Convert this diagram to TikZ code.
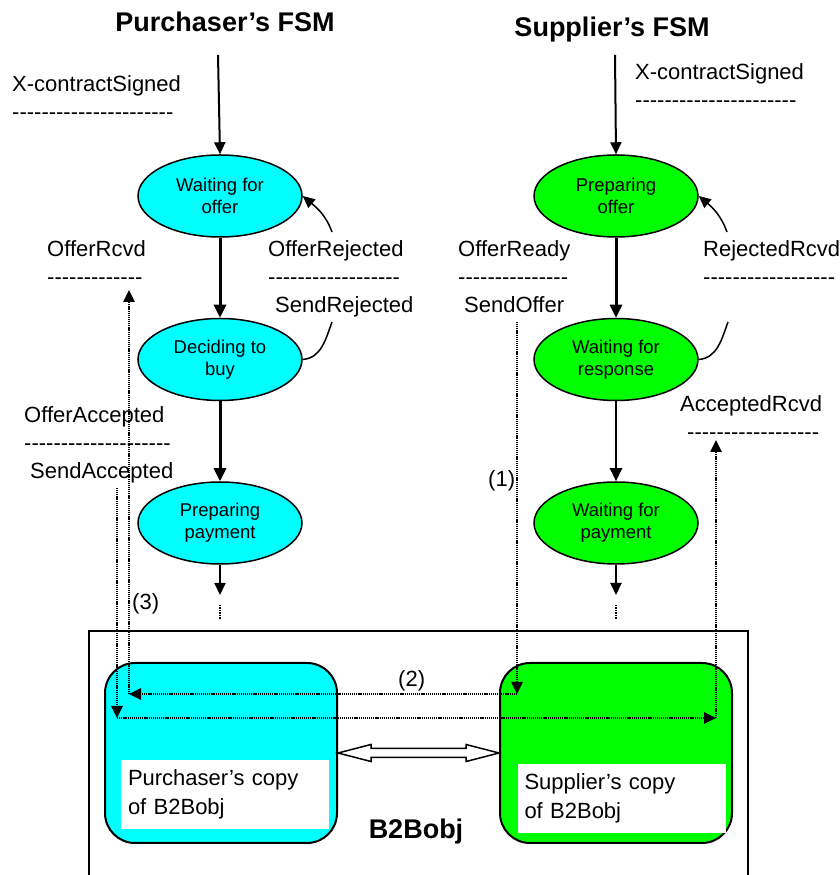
\documentclass[tikz,border=0pt]{standalone}
\usepackage{fontspec}
\setmainfont{Liberation Sans}
\usetikzlibrary{shapes.geometric, arrows.meta, calc}
\definecolor{buyercyan}{HTML}{00FFFF}
\definecolor{sellergreen}{HTML}{00FF00}
\newcommand{\dashrow}[1]{\foreach \dashi in {1,...,#1}{-}}

\begin{document}
\begin{tikzpicture}[x=1pt, y=1pt, node distance=163.5pt]
\useasboundingbox (0,0) rectangle (840,875);
% Define styles
\tikzstyle{buyerstate} = [ellipse, minimum width=164pt, minimum height=82pt, inner sep=0pt, align=center, draw, line width=1.5pt, fill=buyercyan, font=\fontsize{18.5}{22}\selectfont]
\tikzstyle{sellerstate} = [buyerstate, fill=sellergreen]
\tikzstyle{trans} = [line width=3pt, -{Triangle[length=13pt, width=12pt]}]
\tikzstyle{startarrow} = [line width=2pt, -{Triangle[length=12pt, width=11pt]}]
\tikzstyle{backloop} = [line width=1.5pt]
\tikzstyle{headed} = [-{Triangle[length=12pt, width=11pt]}]
\tikzstyle{msg} = [line width=2.5pt, dash pattern=on 1.2pt off 0.9pt]
% base of a stacked label = baseline of its last line
\tikzstyle{evlabel} = [align=left, anchor=base west, inner sep=0pt, font=\fontsize{22}{28}\selectfont]
\tikzstyle{fsmtitle} = [anchor=base, inner sep=0pt, font=\bfseries\fontsize{27}{30}\selectfont]
\tikzstyle{copybox} = [rectangle, rounded corners=30pt, minimum width=232pt, minimum height=180pt, draw, line width=2pt]
\tikzstyle{copytext} = [rectangle, fill=white, align=left, text width=194pt, minimum height=69pt, inner xsep=7pt, inner ysep=0pt, font=\fontsize{22}{29}\selectfont]

% Titles
\node (ptitle) [fsmtitle] at (225,843) {Purchaser’s FSM};
\node (stitle) [fsmtitle] at (612,838) {Supplier’s FSM};

% States
\node (wait) [buyerstate] at (220,679) {Waiting for\\offer};
\node (decide) [buyerstate, below of=wait] {Deciding to\\buy};
\node (preppay) [buyerstate, below of=decide] {Preparing\\payment};
\node (prepoffer) [sellerstate] at (616,679) {Preparing\\offer};
\node (waitresp) [sellerstate, below of=prepoffer] {Waiting for\\response};
\node (waitpay) [sellerstate, below of=waitresp] {Waiting for\\payment};

% Event / action labels
\node (pstart) [evlabel] at (12,755) {X-contractSigned\\\dashrow{22}};
\node (sstart) [evlabel] at (635,767) {X-contractSigned\\\dashrow{22}};
\node (offrcvd) [evlabel] at (47,590) {OfferRcvd\\\dashrow{13}};
\node (offrej) [evlabel] at (268,562) {OfferRejected\\\dashrow{18}\\\hspace*{7pt}SendRejected};
\node (offready) [evlabel] at (458,562) {OfferReady\\\dashrow{15}\\\hspace*{6pt}SendOffer};
\node (rejrcvd) [evlabel] at (703,590) {RejectedRcvd\\\dashrow{18}};
\node (offacc) [evlabel] at (24,396) {OfferAccepted\\\dashrow{20}\\\hspace*{6pt}SendAccepted};
\node (accrcvd) [evlabel] at (680,435) {AcceptedRcvd\\\hspace*{7pt}\dashrow{18}};
\node (step1) [evlabel] at (488,388) {(1)};
\node (step3) [evlabel] at (132,265) {(3)};
\node (step2) [evlabel] at (398,188) {(2)};

% Transitions
\coordinate (pinit) at (218,820);
\coordinate (sinit) at (615,820);
\coordinate (pend) at (220,280);
\coordinate (send) at (616,280);
\draw[startarrow] (pinit) -- (wait.north);
\draw[startarrow] (sinit) -- (prepoffer.north);
\draw[trans] (wait) -- (decide);
\draw[trans] (decide) -- (preppay);
\draw[trans] (prepoffer) -- (waitresp);
\draw[trans, line width=2pt] (waitresp) -- (waitpay);
\draw[startarrow] (preppay.south) -- (pend);
\draw[startarrow] (waitpay.south) -- (send);
\draw[line width=1.5pt, densely dotted] ($(pend)+(0,-10)$) -- ++(0,-15);
\draw[line width=1.5pt, densely dotted] ($(send)+(0,-10)$) -- ++(0,-15);

% Self loops (broken by their labels)
\coordinate (rejlo) at (332,553);
\coordinate (rejhi) at (332,643);
\coordinate (rrlo) at (728,553);
\coordinate (rrhi) at (727,643);
\draw[backloop] (decide.east) to[out=5,in=-110] (rejlo);
\draw[backloop, headed] (rejhi) to[out=110,in=-40] (wait.east);
\draw[backloop] (waitresp.east) to[out=5,in=-110] (rrlo);
\draw[backloop, headed] (rrhi) to[out=110,in=-40] (prepoffer.east);

% B2Bobj frame and copies
\draw[line width=2pt] (89,0) |- (748,244) -- (748,0);
\node (pcopy) [copybox, fill=buyercyan] at (221,122) {};
\node (scopy) [copybox, fill=sellergreen] at (616,122) {};
\node (ptext) [copytext] at (225,80.5) {Purchaser’s copy\\of B2Bobj};
\node (stext) [copytext] at (621.5,76.5) {Supplier’s copy\\of B2Bobj};
\node (b2b) [fsmtitle] at (416,36) {B2Bobj};
\draw[line width=1.5pt, fill=white] (pcopy.east) -- ++(33,8.5) -- ++(0,-4)
  -- ($(scopy.west)+(-33,4.5)$) -- ++(0,4) -- (scopy.west) -- ++(-33,-8.5)
  -- ++(0,4) -- ($(pcopy.east)+(33,-4.5)$) -- ++(0,-4) -- cycle;

% Messages
\coordinate (offsrc) at (517,553);
\coordinate (s1) at (517,181);
\coordinate (p1) at (129,181);
\coordinate (rcvdtip) at (129,585);
\draw[msg, headed] (offsrc) -- (s1);
\draw[msg, headed] (s1) -- (p1);
\draw[msg, headed] (p1) -- (rcvdtip);
\coordinate (accsrc) at (117,387);
\coordinate (p2) at (117,157);
\coordinate (s2) at (716,157);
\coordinate (acctip) at (716,435);
\draw[msg, headed] (accsrc) -- (p2);
\draw[msg, headed] (p2) -- (s2);
\draw[msg, headed] (s2) -- (acctip);
\end{tikzpicture}
\end{document}
